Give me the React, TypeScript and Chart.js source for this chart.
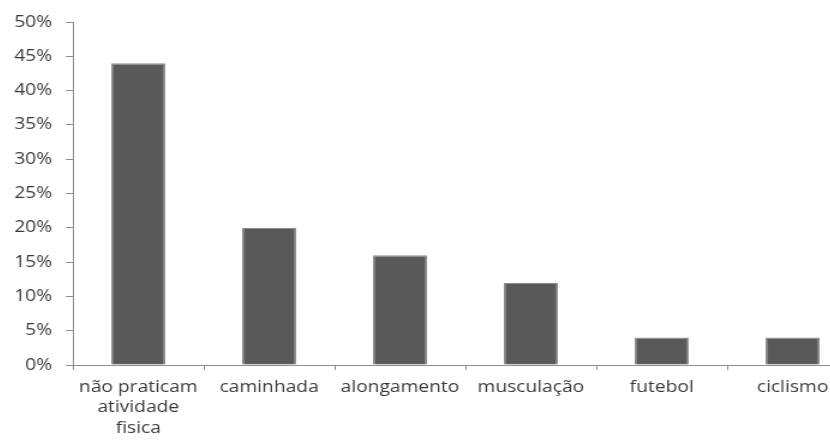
import React, { useEffect, useRef } from "react";
import { Chart, registerables } from "chart.js";
Chart.register(...registerables);

const categories: (string | string[])[] = [
  ["não praticam", "atividade", "fisica"],
  "caminhada",
  "alongamento",
  "musculação",
  "futebol",
  "ciclismo",
];
const values = [44, 20, 16, 12, 4, 4];
const yTicks = [0, 5, 10, 15, 20, 25, 30, 35, 40, 45, 50];

const STRETCH = 1.2;
const PAGE_W = 850;
const H = 434;

export default function App() {
  const ref = useRef<HTMLCanvasElement>(null);
  useEffect(() => {
    document.documentElement.style.overflow = "hidden";
    document.body.style.overflow = "hidden";
    if (!ref.current) return;
    const chart = new Chart(ref.current, {
      type: "bar",
      data: {
        labels: categories,
        datasets: [
          {
            data: values,
            backgroundColor: "#595959",
            borderColor: "#8e8e8e",
            borderWidth: 1.3,
            barPercentage: 0.413,
            categoryPercentage: 1,
          },
        ],
      },
      options: {
        responsive: false,
        animation: false,
        devicePixelRatio: 1,
        layout: { padding: { top: 14, right: 0, left: 0, bottom: 0 } },
        plugins: { legend: { display: false }, tooltip: { enabled: false } },
        scales: {
          x: {
            offset: true,
            grid: {
              display: true,
              drawOnChartArea: false,
              offset: true,
              tickLength: 5,
              color: "#8c8c8c",
            },
            border: { color: "#8c8c8c", width: 1 },
            ticks: {
              font: { family: "'Open Sans', sans-serif", size: 16, lineHeight: 1.28 },
              color: "#3a3a3a",
              maxRotation: 0,
              autoSkip: false,
              padding: 7,
            },
            afterFit: (s: any) => {
              s.height = 77;
              s.paddingLeft = 0;
              s.paddingRight = 0;
            },
          },
          y: {
            min: 0,
            max: 50,
            afterBuildTicks: (s: any) => {
              s.ticks = yTicks.map((v) => ({ value: v }));
            },
            grid: {
              display: true,
              drawOnChartArea: false,
              tickLength: 5.8,
              color: "#8c8c8c",
            },
            border: { color: "#8c8c8c", width: 1 },
            ticks: {
              font: { family: "'Open Sans', sans-serif", size: 16 },
              color: "#3a3a3a",
              padding: 11.5,
              callback: (v: any) => v + "%",
            },
            afterFit: (s: any) => {
              s.width = 54;
              s.paddingTop = 0;
              s.paddingBottom = 0;
            },
          },
        },
      },
    });
    return () => chart.destroy();
  }, []);
  return (
    <div
      style={{
        position: "fixed",
        left: 8,
        top: 8,
        width: 822,
        height: H,
        overflow: "hidden",
      }}
    >
      <canvas
        ref={ref}
        width={Math.round(PAGE_W / STRETCH)}
        height={H}
        style={{ display: "block", width: PAGE_W + "px", height: H + "px" }}
      />
    </div>
  );
}
